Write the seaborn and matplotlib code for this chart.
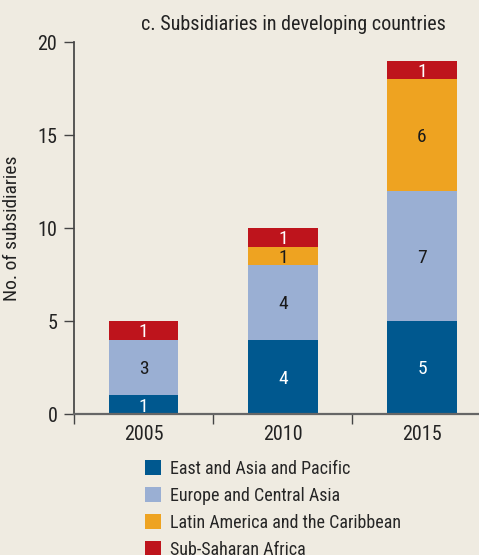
import numpy as np
import pandas as pd
import matplotlib
matplotlib.use('Agg')
import matplotlib.pyplot as plt
import seaborn as sns
from matplotlib.patches import Patch

years = ['2005', '2010', '2015']
regions = ['East and Asia and Pacific', 'Europe and Central Asia',
           'Latin America and the Caribbean', 'Sub-Saharan Africa']
east_asia = [1, 4, 5]
europe = [3, 4, 7]
latin_am = [0, 1, 6]
africa = [1, 1, 1]

colors = ['#00588f', '#9aafd3', '#eea321', '#be141c']
label_colors = ['white', '#1a1a1a', '#1a1a1a', 'white']
bg = '#efebe1'

sns.set_theme(style='ticks')
plt.rcParams['font.family'] = ['Roboto Condensed', 'Roboto', 'DejaVu Sans']
plt.rcParams['axes.facecolor'] = bg
plt.rcParams['figure.facecolor'] = bg

df = pd.DataFrame({'year': years, 'east': east_asia, 'europe': europe,
                   'latin': latin_am, 'africa': africa})
series = ['east', 'europe', 'latin', 'africa']
cum = df[series].cumsum(axis=1)

fig = plt.figure(figsize=(4.79, 5.55), dpi=100)
ax = fig.add_axes([0.1545, 0.254, 0.8455, 0.670])

# draw cumulative totals, tallest first, so each layer covers the one above
for s, c in reversed(list(zip(series, colors))):
    sns.barplot(x=df['year'], y=cum[s], color=c, width=0.5, saturation=1,
                ax=ax, edgecolor='none', linewidth=0)

# segment labels
for i in range(len(years)):
    base = 0
    for s, lc in zip(series, label_colors):
        v = df.loc[i, s]
        if v > 0:
            ax.text(i, base + v / 2 - 0.1, str(v), ha='center', va='center',
                    color=lc, fontsize=14)
        base += v

ax.set_xlim(-0.5, 2.41)
ax.set_ylim(0, 20)
ax.set_yticks([0, 5, 10, 15, 20])
ax.set_xticks([0, 1, 2])
ax.set_xticklabels(years)
ax.set_xticks([-0.5, 0.5, 1.5], minor=True)
ax.tick_params(axis='x', which='major', length=0, labelsize=14.5, pad=8, colors='#222222')
ax.tick_params(axis='x', which='minor', length=7, width=1, color='#444444', direction='out')
ax.tick_params(axis='y', length=7, width=1, labelsize=14.5, color='#444444',
               labelcolor='#222222', pad=5)
for sp in ['top', 'right']:
    ax.spines[sp].set_visible(False)
ax.spines['left'].set_color('#444444')
ax.spines['bottom'].set_color('#666666')
ax.spines['bottom'].set_linewidth(1.6)
ax.set_xlabel('')
ax.set_ylabel('No. of subsidiaries', fontsize=14, color='#222222', labelpad=12)
ax.set_title('c. Subsidiaries in developing countries', fontsize=14.5,
             color='#222222', pad=9, x=0.541)

handles = [Patch(facecolor=c, edgecolor='none') for c in colors]
fig.legend(handles, regions, loc='upper left', bbox_to_anchor=(0.288, 0.185),
           frameon=False, fontsize=13, handlelength=0.85, handleheight=0.9,
           handletextpad=0.55, labelspacing=0.5, borderaxespad=0)

plt.savefig('out.png', dpi=100, facecolor=bg)
